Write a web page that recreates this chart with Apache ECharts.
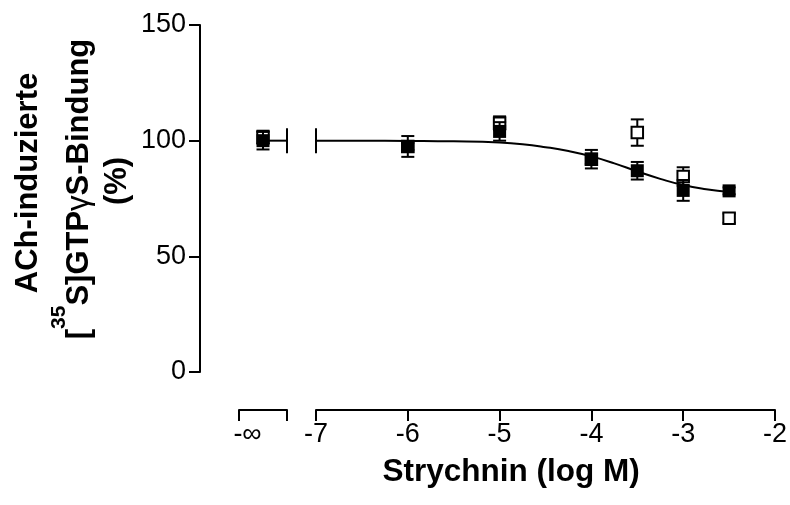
<!DOCTYPE html>
<html>
<head>
<meta charset="utf-8">
<script src="https://cdn.jsdelivr.net/npm/echarts@6/dist/echarts.min.js"></script>
<style>
  html, body { margin: 0; padding: 0; background: #fff; }
  #chart { width: 790px; height: 505px; }
</style>
</head>
<body>
<div id="chart"></div>
<script>
// Strychnin concentrations (log M) of the measured points
const logConc = [-6, -5, -4, -3.5, -3, -2.5];
// Filled squares: mean and SEM (%)
const filledMean = [97.5, 104, 92, 87, 78.5, 78.3];
const filledSem = [4.5, 4, 4, 3.8, 4.5, 1.5];
// Open squares: mean and SEM (%)
const openMean = [97.5, 107.5, 92, 103.5, 84.5, 66.5];
const openSem = [1.5, 3, 2, 5.7, 4, 2];
// Control without strychnin, shown at -infinity: [mean, SEM]
const ctrlFilled = [100, 3.8];
const ctrlOpen = [101.5, 2.8];
// Fitted concentration-response curve
const curveX = [-7, -6.5, -6, -5.5, -5, -4.75, -4.5, -4.25, -4, -3.75, -3.5, -3.25, -3, -2.75, -2.5];
const curveY = [100, 100, 99.9, 99.7, 99.2, 98.5, 97.2, 95.5, 93.2, 90.2, 86.7, 83.5, 80.8, 79, 77.8];
// Axis ticks
const yTicks = [0, 50, 100, 150];
const xTickLabels = ['-7', '-6', '-5', '-4', '-3', '-2'];
const ctrlLabel = '-\u221E';
// Control segment of the broken x axis: [start, point, end]
const ctrlSegment = [0, 1, 2];

const FONT = '"Liberation Sans", Arial, Helvetica, sans-serif';
const BLACK = '#000';

function errorBars(xs, means, sems) {
  return xs.map((x, i) => [x, means[i] - sems[i], means[i] + sems[i]]);
}

function renderErrorBar(params, api) {
  const x = api.value(0);
  const pLo = api.coord([x, api.value(1)]);
  const pHi = api.coord([x, api.value(2)]);
  const half = 6.5;
  const style = { stroke: BLACK, lineWidth: 2, fill: null };
  return {
    type: 'group',
    children: [
      { type: 'line', shape: { x1: pLo[0], y1: pLo[1], x2: pHi[0], y2: pHi[1] }, style },
      { type: 'line', shape: { x1: pLo[0] - half, y1: pLo[1], x2: pLo[0] + half, y2: pLo[1] }, style },
      { type: 'line', shape: { x1: pHi[0] - half, y1: pHi[1], x2: pHi[0] + half, y2: pHi[1] }, style }
    ]
  };
}

// Short vertical strokes marking the break of the curve
function renderBreak(params, api) {
  const p = api.coord([api.value(0), api.value(1)]);
  return {
    type: 'line',
    shape: { x1: p[0], y1: p[1] - 12.5, x2: p[0], y2: p[1] + 12.5 },
    style: { stroke: BLACK, lineWidth: 2 }
  };
}

const axisLineStyle = { color: BLACK, width: 2 };
const labelStyle = { color: BLACK, fontSize: 27, fontFamily: FONT };

const chart = echarts.init(document.getElementById('chart'), null, { renderer: 'canvas' });

chart.setOption({
  backgroundColor: '#fff',
  animation: false,
  grid: [
    { left: 239, top: 25, width: 48, height: 347 },
    { left: 316, top: 25, width: 462, height: 347 }
  ],
  xAxis: [
    {
      gridIndex: 0, type: 'value',
      min: ctrlSegment[0], max: ctrlSegment[2], interval: ctrlSegment[2] - ctrlSegment[0],
      offset: 38,
      axisLine: { show: true, onZero: false, lineStyle: axisLineStyle },
      axisTick: { show: true, length: 11, lineStyle: axisLineStyle },
      axisLabel: Object.assign({}, labelStyle, {
        margin: 11, padding: [0, 0, 0, 17],
        formatter: v => (v === ctrlSegment[0] ? ctrlLabel : '')
      }),
      splitLine: { show: false }
    },
    {
      gridIndex: 1, type: 'value', min: -7, max: -2, interval: 1,
      offset: 38,
      axisLine: { show: true, onZero: false, lineStyle: axisLineStyle },
      axisTick: { show: true, length: 11, lineStyle: axisLineStyle },
      axisLabel: Object.assign({}, labelStyle, {
        margin: 11,
        formatter: v => xTickLabels[Math.round(v + 7)]
      }),
      splitLine: { show: false }
    }
  ],
  yAxis: [
    {
      gridIndex: 0, type: 'value', min: yTicks[0], max: yTicks[yTicks.length - 1],
      interval: yTicks[1] - yTicks[0],
      offset: 39,
      axisLine: { show: true, onZero: false, lineStyle: axisLineStyle },
      axisTick: { show: true, length: 11, lineStyle: axisLineStyle },
      axisLabel: Object.assign({}, labelStyle, { margin: 14 }),
      splitLine: { show: false }
    },
    {
      gridIndex: 1, type: 'value', min: yTicks[0], max: yTicks[yTicks.length - 1],
      show: false, splitLine: { show: false }
    }
  ],
  graphic: [
    {
      type: 'text', x: 511, y: 472,
      style: {
        text: 'Strychnin (log M)', fill: BLACK,
        font: 'bold 31.5px ' + FONT, textAlign: 'center', textVerticalAlign: 'middle'
      }
    },
    {
      type: 'text', x: 28, y: 183, rotation: Math.PI / 2,
      style: {
        text: 'ACh-induzierte', fill: BLACK,
        font: 'bold 31px ' + FONT, textAlign: 'center', textVerticalAlign: 'middle'
      }
    },
    {
      type: 'text', x: 72, y: 189, rotation: Math.PI / 2,
      style: {
        text: '{b|[}{sup|35}{b|S]GTP}{g|\u03B3}{b|S-Bindung}', fill: BLACK,
        textAlign: 'center', textVerticalAlign: 'middle',
        rich: {
          b: { fontFamily: FONT, fontWeight: 'bold', fontSize: 31, lineHeight: 46, verticalAlign: 'bottom', fill: BLACK },
          g: { fontFamily: FONT, fontWeight: 'normal', fontSize: 31, lineHeight: 46, verticalAlign: 'bottom', fill: BLACK },
          sup: { fontFamily: FONT, fontWeight: 'bold', fontSize: 21, lineHeight: 46, verticalAlign: 'top', fill: BLACK }
        }
      }
    },
    {
      type: 'text', x: 117, y: 181, rotation: Math.PI / 2,
      style: {
        text: '(%)', fill: BLACK,
        font: 'bold 31px ' + FONT, textAlign: 'center', textVerticalAlign: 'middle'
      }
    }
  ],
  series: [
    // fitted curve, main segment
    {
      type: 'line', xAxisIndex: 1, yAxisIndex: 1, smooth: true, showSymbol: false, symbol: 'none',
      data: curveX.map((x, i) => [x, curveY[i]]),
      lineStyle: { color: BLACK, width: 2 }, z: 2, silent: true
    },
    // curve plateau on the control segment
    {
      type: 'line', xAxisIndex: 0, yAxisIndex: 0, showSymbol: false, symbol: 'none',
      data: [[ctrlSegment[1], curveY[0]], [ctrlSegment[2], curveY[0]]],
      lineStyle: { color: BLACK, width: 2 }, z: 2, silent: true
    },
    // break marks
    {
      type: 'custom', xAxisIndex: 0, yAxisIndex: 0, renderItem: renderBreak, clip: false,
      data: [[ctrlSegment[2], curveY[0]]], z: 2, silent: true
    },
    {
      type: 'custom', xAxisIndex: 1, yAxisIndex: 1, renderItem: renderBreak, clip: false,
      data: [[curveX[0], curveY[0]]], z: 2, silent: true
    },
    // open squares: error bars and markers
    {
      type: 'custom', xAxisIndex: 1, yAxisIndex: 1, renderItem: renderErrorBar, clip: false,
      data: errorBars(logConc, openMean, openSem), z: 3, silent: true
    },
    {
      type: 'custom', xAxisIndex: 0, yAxisIndex: 0, renderItem: renderErrorBar, clip: false,
      data: errorBars([ctrlSegment[1]], [ctrlOpen[0]], [ctrlOpen[1]]), z: 3, silent: true
    },
    {
      type: 'scatter', xAxisIndex: 1, yAxisIndex: 1, symbol: 'rect', symbolSize: 11.5,
      data: logConc.map((x, i) => [x, openMean[i]]),
      itemStyle: { color: '#fff', borderColor: BLACK, borderWidth: 2, opacity: 1 }, z: 4, silent: true
    },
    {
      type: 'scatter', xAxisIndex: 0, yAxisIndex: 0, symbol: 'rect', symbolSize: 11.5,
      data: [[ctrlSegment[1], ctrlOpen[0]]],
      itemStyle: { color: '#fff', borderColor: BLACK, borderWidth: 2, opacity: 1 }, z: 4, silent: true
    },
    // filled squares: error bars and markers
    {
      type: 'custom', xAxisIndex: 1, yAxisIndex: 1, renderItem: renderErrorBar, clip: false,
      data: errorBars(logConc, filledMean, filledSem), z: 5, silent: true
    },
    {
      type: 'custom', xAxisIndex: 0, yAxisIndex: 0, renderItem: renderErrorBar, clip: false,
      data: errorBars([ctrlSegment[1]], [ctrlFilled[0]], [ctrlFilled[1]]), z: 5, silent: true
    },
    {
      type: 'scatter', xAxisIndex: 1, yAxisIndex: 1, symbol: 'rect', symbolSize: 13,
      data: logConc.map((x, i) => [x, filledMean[i]]),
      itemStyle: { color: BLACK, opacity: 1 }, z: 6, silent: true
    },
    {
      type: 'scatter', xAxisIndex: 0, yAxisIndex: 0, symbol: 'rect', symbolSize: 13,
      data: [[ctrlSegment[1], ctrlFilled[0]]],
      itemStyle: { color: BLACK, opacity: 1 }, z: 6, silent: true
    }
  ]
});
</script>
</body>
</html>
